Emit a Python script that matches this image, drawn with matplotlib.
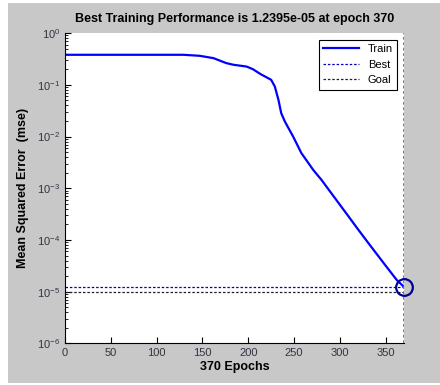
import numpy as np
import matplotlib
matplotlib.use('Agg')
from matplotlib import pyplot as plt
from matplotlib.patches import Rectangle
from matplotlib.ticker import NullFormatter

plt.rcParams['font.family'] = ['Liberation Sans', 'DejaVu Sans']

# training curve
epochs = [0, 50, 100, 129, 147, 162, 176, 184, 198, 205, 213, 225, 229, 233,
          236, 240, 249, 258, 271, 280, 293, 311, 318, 329, 348, 362, 370]
mse = [0.381, 0.381, 0.381, 0.381, 0.364, 0.328, 0.263, 0.244, 0.226, 0.201,
       0.163, 0.125, 0.093, 0.051, 0.0283, 0.0195, 0.0100, 0.00479, 0.00226,
       1.45e-3, 7.08e-4, 2.63e-4, 1.78e-4, 9.8e-5, 3.55e-5, 1.7e-5, 1.2395e-5]
best_epoch = 370
best_perf = 1.2395e-5
goal = 1e-5

fig = plt.figure(figsize=(4.4, 3.85), dpi=100)
fig.patch.set_facecolor('white')
fig.patches.append(Rectangle((8/440, 2/385), 1 - 8/440, 1 - 5/385,
                             transform=fig.transFigure, facecolor='#c8c8c8',
                             edgecolor='none', zorder=-10))

ax = fig.add_axes([0.148, 0.108, 0.77, 0.806])
ax.set_facecolor('white')

ax.semilogy(epochs, mse, color='#0000ff', lw=1.6, label='Train')
ax.axhline(best_perf, color='#0000c0', ls=(0, (2, 1.5)), lw=0.9, label='Best')
ax.axhline(goal, color='#202020', ls=(0, (2, 1.5)), lw=0.9, label='Goal')
ax.axvline(best_epoch, color='#6060e0', ls=(0, (1.5, 1.5)), lw=1.3)
ax.plot([best_epoch], [best_perf], 'o', ms=12, mfc='none', mec='#000090',
        mew=1.6, clip_on=False)

ax.set_xlim(0, 370)
ax.set_ylim(1e-6, 1)
ax.set_xticks(np.arange(0, 351, 50))
ax.yaxis.set_minor_formatter(NullFormatter())
ax.tick_params(direction='in', labelsize=8, labelcolor='#333344', length=4)
ax.tick_params(which='minor', direction='in', length=2)
for s in ['top', 'right']:
    ax.spines[s].set_visible(False)

ax.set_title('Best Training Performance is 1.2395e-05 at epoch 370',
             fontsize=9, fontweight='bold', pad=8)
ax.set_xlabel('370 Epochs', fontsize=9, fontweight='bold', labelpad=2)
ax.set_ylabel('Mean Squared Error  (mse)', fontsize=9, fontweight='bold',
              labelpad=6)

leg = ax.legend(loc='upper right', fontsize=8, fancybox=False, edgecolor='black',
                framealpha=1, handlelength=3.2, borderaxespad=0.6)
leg.get_frame().set_linewidth(0.8)

plt.savefig('out.png', dpi=100)
